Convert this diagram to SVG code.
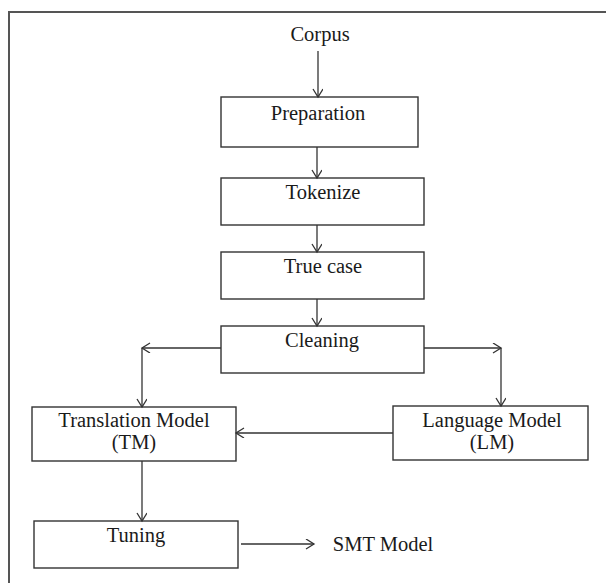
<svg xmlns="http://www.w3.org/2000/svg" width="606" height="583" viewBox="0 0 606 583">
<style>
.box{fill:#fff;stroke:#333;stroke-width:1.4}
.lbl{font-family:"Liberation Serif","Times New Roman",serif;font-size:20.5px;fill:#1a1a1a;text-anchor:middle}
.con{fill:none;stroke:#333;stroke-width:1.3}
</style>
<defs>
<marker id="ah" markerUnits="userSpaceOnUse" markerWidth="12" markerHeight="12" refX="9" refY="5" orient="auto">
<path d="M1,0 L9,5 L1,10" fill="none" stroke="#333" stroke-width="1.3"/>
</marker>
</defs>
<rect width="606" height="583" fill="#fff"/>
<path d="M9,583 V12 H606" fill="none" stroke="#555" stroke-width="2"/>
<g id="corpus"><text class="lbl" x="320" y="41">Corpus</text></g>
<g id="preparation"><rect class="box" x="221" y="97" width="197" height="50"/><text class="lbl" x="318" y="120">Preparation</text></g>
<g id="tokenize"><rect class="box" x="221" y="178" width="203" height="47"/><text class="lbl" x="323" y="199">Tokenize</text></g>
<g id="truecase"><rect class="box" x="221" y="252" width="203" height="47"/><text class="lbl" x="323" y="273">True case</text></g>
<g id="cleaning"><rect class="box" x="221" y="326" width="203" height="47"/><text class="lbl" x="322" y="347">Cleaning</text></g>
<g id="tm"><rect class="box" x="32" y="407" width="204" height="54"/><text class="lbl" x="134" y="427">Translation Model</text><text class="lbl" x="134" y="449">(TM)</text></g>
<g id="lm"><rect class="box" x="393" y="406" width="195" height="54"/><text class="lbl" x="492" y="427">Language Model</text><text class="lbl" x="492" y="449">(LM)</text></g>
<g id="tuning"><rect class="box" x="34" y="521" width="204" height="47"/><text class="lbl" x="136" y="542">Tuning</text></g>
<g id="smt"><text class="lbl" x="383" y="551">SMT Model</text></g>
<g id="connectors">
<line class="con" x1="318" y1="51" x2="318" y2="97" marker-end="url(#ah)"/>
<line class="con" x1="317" y1="147" x2="317" y2="178" marker-end="url(#ah)"/>
<line class="con" x1="317" y1="225" x2="317" y2="252" marker-end="url(#ah)"/>
<line class="con" x1="317" y1="299" x2="317" y2="326" marker-end="url(#ah)"/>
<line class="con" x1="221" y1="348" x2="142" y2="348" marker-end="url(#ah)"/>
<line class="con" x1="142" y1="348" x2="142" y2="407" marker-end="url(#ah)"/>
<line class="con" x1="424" y1="348" x2="501" y2="348" marker-end="url(#ah)"/>
<line class="con" x1="501" y1="348" x2="501" y2="406" marker-end="url(#ah)"/>
<line class="con" x1="393" y1="433" x2="236" y2="433" marker-end="url(#ah)"/>
<line class="con" x1="142" y1="461" x2="142" y2="521" marker-end="url(#ah)"/>
<line class="con" x1="241" y1="544" x2="314" y2="544" marker-end="url(#ah)"/>
</g>
</svg>
